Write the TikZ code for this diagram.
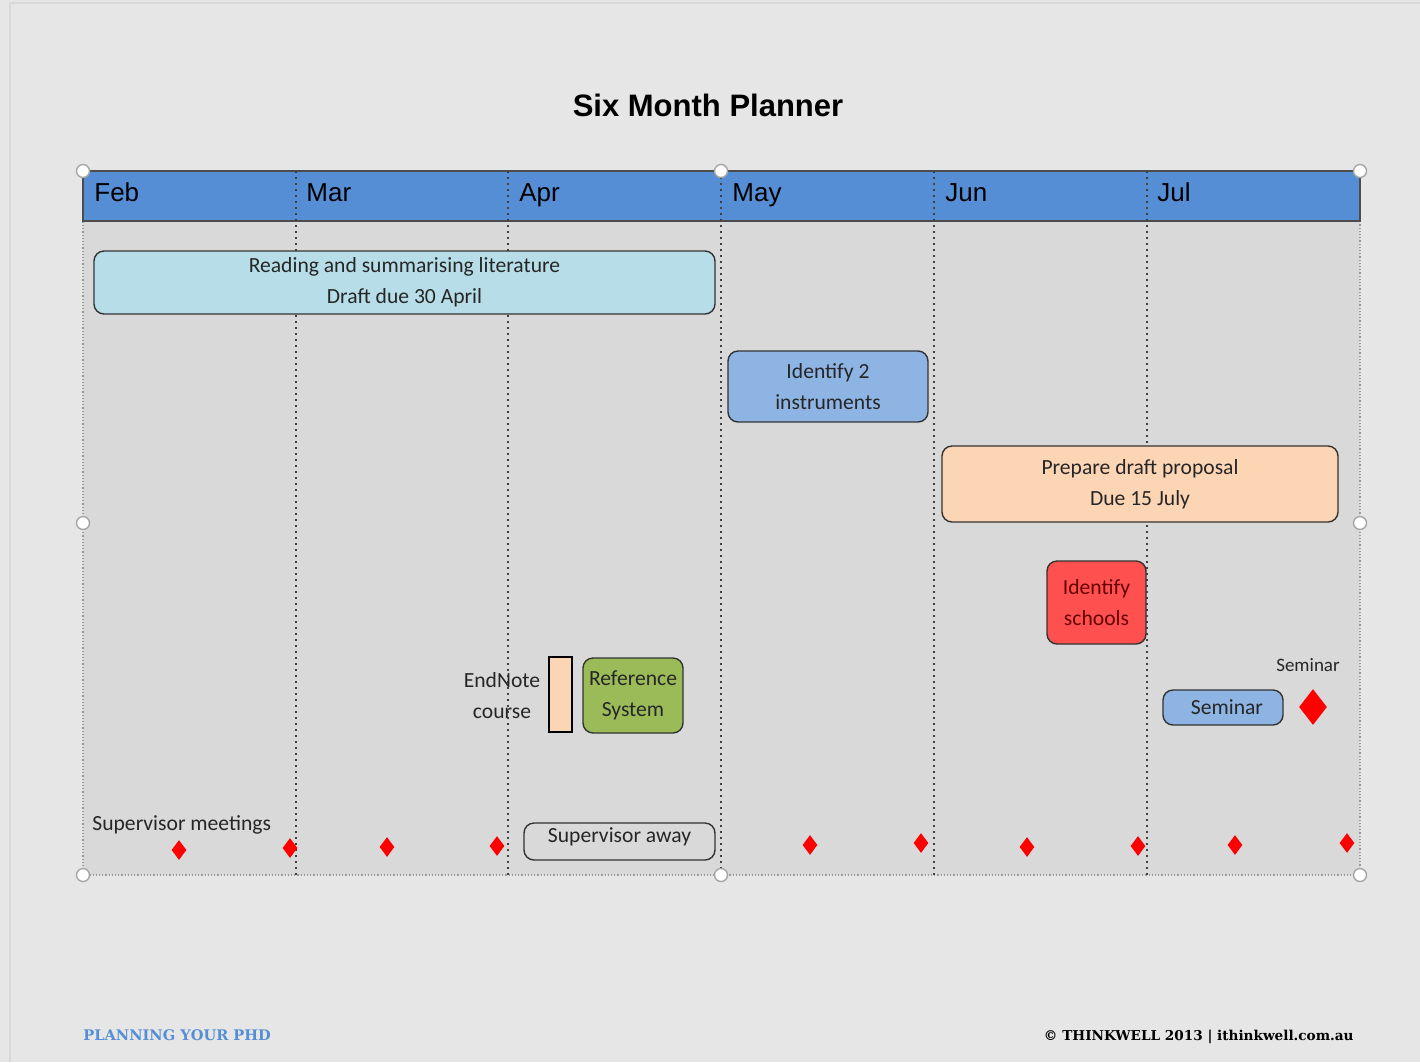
\documentclass[tikz,border=0pt]{standalone}
\usepackage{fontspec}
\setmainfont{Carlito}
\newfontfamily\arialfont{Liberation Sans}
\newfontfamily\footfont{DejaVu Serif}
\usetikzlibrary{shapes.geometric,positioning,backgrounds,calc}

\definecolor{pagebg}{HTML}{E6E6E6}
\definecolor{chartbg}{HTML}{D9D9D9}
\definecolor{headblue}{HTML}{558ED5}
\definecolor{litblue}{HTML}{B7DEE8}
\definecolor{instblue}{HTML}{8EB4E3}
\definecolor{peach}{HTML}{FCD5B5}
\definecolor{schoolred}{HTML}{FF5050}
\definecolor{refgreen}{HTML}{9BBB59}

\begin{document}
\begin{tikzpicture}[
			x=0.5pt, y=-0.5pt,
			every node/.style={font=\fontsize{10.8}{15.5}\selectfont, text=black!85},
			month/.style={font=\arialfont\fontsize{13}{13}\selectfont, text=black, anchor=base west, inner sep=0},
			task/.style={draw=black!80, line width=0.7pt, rounded corners=5pt, align=center, inner sep=0},
			meet/.style={diamond, fill=red, inner sep=0, minimum width=7.5pt, minimum height=10pt},
			handle/.style={circle, draw=black!35, fill=white, line width=0.7pt, inner sep=0, minimum size=6.5pt},
			divider/.style={black!75, dotted, line width=1pt},
			foot/.style={font=\footfont\bfseries\fontsize{7.3}{7.3}\selectfont, inner sep=0}
			]
			
			\useasboundingbox [fill=pagebg] (0,0) rectangle (1420,1062);
			\draw [black!15, line width=0.8pt] (10,1062) -- (10,3) -- (1420,3);
			
			\node (title) at (708,116) [anchor=base, font=\arialfont\bfseries\fontsize{15.5}{15.5}\selectfont, text=black] {Six Month Planner};
			
			% chart area and month band
			\node (chart) at (721.5,523) [fill=chartbg, draw=black!40, densely dotted, line width=0.6pt, minimum width=638.5pt, minimum height=352pt, inner sep=0] {};
			\node (band) at (721.5,196) [fill=headblue, draw=black!70, line width=0.8pt, minimum width=638.5pt, minimum height=25pt, inner sep=0] {};
			
			\draw [divider] (296,171) -- (296,875);
			\draw [divider] (508,171) -- (508,875);
			\draw [divider] (721,171) -- (721,875);
			\draw [divider] (934,171) -- (934,875);
			\draw [divider] (1147,171) -- (1147,875);
			
			\node (feb) at (94,201) [month] {Feb};
			\node (mar) at (306,201) [month] {Mar};
			\node (apr) at (519,201) [month] {Apr};
			\node (may) at (732,201) [month] {May};
			\node (jun) at (945,201) [month] {Jun};
			\node (jul) at (1157,201) [month] {Jul};
			
			% tasks
			\node (lit) at (404.5,282.5) [task, fill=litblue, minimum width=310.5pt, minimum height=31.5pt] {Reading and summarising literature\\Draft due 30 April};
			\node (instr) at (828,386.5) [task, fill=instblue, minimum width=100pt, minimum height=35.5pt] {Identify 2\\instruments};
			\node (draft) at (1140,484) [task, fill=peach, minimum width=198pt, minimum height=38pt] {Prepare draft proposal\\Due 15 July};
			\node (schools) at (1096.5,602.5) [task, fill=schoolred, text=red!40!black, minimum width=49.5pt, minimum height=41.5pt] {Identify\\schools};
			
			\node (endnote) at (502,696) [align=center, inner sep=0] {EndNote\\course};
			\node (enbar) at (560.5,694.5) [draw=black, fill=peach, line width=1.2pt, minimum width=11.5pt, minimum height=37.5pt, inner sep=0] {};
			\node (refsys) at (633,695.5) [task, fill=refgreen, minimum width=50pt, minimum height=37.5pt] {Reference\\System};
			
			\node (sembox) at (1223,707.5) [task, fill=instblue, minimum width=60pt, minimum height=17.5pt, text width=40pt, align=right] {Seminar};
			\node (semlabel) at (1308,671) [anchor=base, inner sep=0, font=\fontsize{9.5}{9.5}\selectfont] {Seminar};
			\node (semdot) at (1313,707) [diamond, fill=red, inner sep=0, minimum width=14pt, minimum height=18pt] {};
			
			% supervisor meetings
			\node (meetings) at (92,830) [anchor=base west, inner sep=0] {Supervisor meetings};
			\node (away) at (619.5,841.5) [task, minimum width=95.5pt, text height=8pt, text depth=7.5pt, inner sep=1.5pt] {Supervisor away};
			
			\node (m1) at (179,850) [meet] {};
			\node (m2) at (290,848) [meet] {};
			\node (m3) at (387,847) [meet] {};
			\node (m4) at (497,846) [meet] {};
			\node (m5) at (810,845) [meet] {};
			\node (m6) at (921,843) [meet] {};
			\node (m7) at (1027,847) [meet] {};
			\node (m8) at (1138,846) [meet] {};
			\node (m9) at (1235,845) [meet] {};
			\node (m10) at (1347,843) [meet] {};
			
			% selection handles
			\node (h1) at (83,171) [handle] {};
			\node (h2) at (721,171) [handle] {};
			\node (h3) at (1360,171) [handle] {};
			\node (h4) at (83,523) [handle] {};
			\node (h5) at (1360,523) [handle] {};
			\node (h6) at (83,875) [handle] {};
			\node (h7) at (721,875) [handle] {};
			\node (h8) at (1360,875) [handle] {};
			
			% footer
			\node (phd) at (83,1040) [foot, anchor=base west, text=headblue] {PLANNING YOUR PHD};
			\node (copy) at (1354,1040) [foot, anchor=base east, text=black, font=\footfont\bfseries\fontsize{6.8}{6.8}\selectfont] {© THINKWELL\ 2013\ | ithinkwell.com.au};
			\end{tikzpicture}
\end{document}
